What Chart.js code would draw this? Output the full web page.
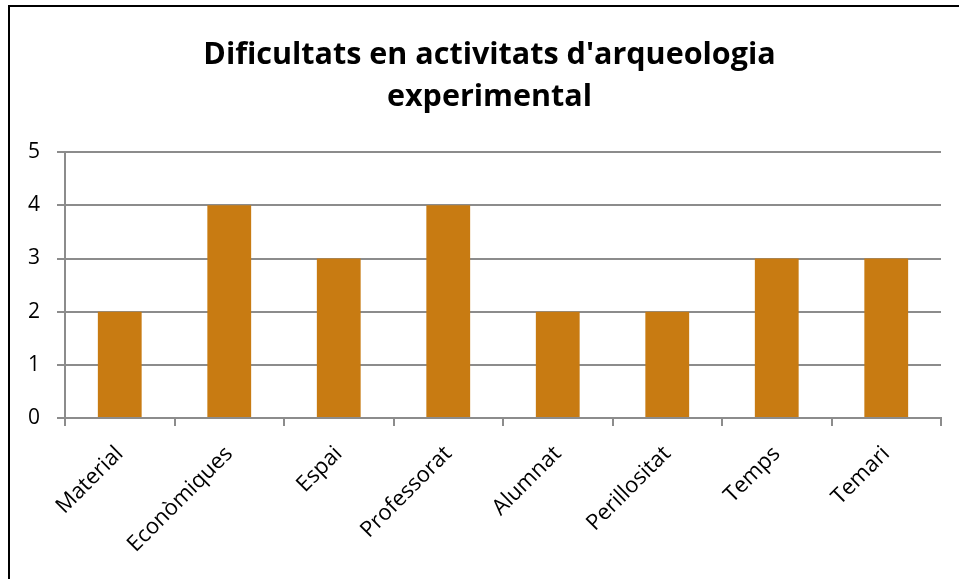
<!DOCTYPE html>
<html>
<head>
<meta charset="utf-8">
<script src="https://cdn.jsdelivr.net/npm/chart.js@4.4.0/dist/chart.umd.min.js"></script>
<style>
  html, body { margin: 0; padding: 0; background: #fff; overflow: hidden; }
  #wrap { position: relative; width: 959px; height: 579px; }
  #frame { position: absolute; left: 8px; top: 5px; width: 1000px; height: 1000px;
           border-left: 2px solid #000; border-top: 2px solid #000; pointer-events: none; }
  canvas { position: absolute; left: 0; top: 0; }
</style>
</head>
<body>
<div id="wrap">
  <canvas id="chart" width="959" height="579"></canvas>
  <div id="frame"></div>
</div>
<script>
const categories = ['Material', 'Econòmiques', 'Espai', 'Professorat', 'Alumnat', 'Perillositat', 'Temps', 'Temari'];
const values = [2, 4, 3, 4, 2, 2, 3, 3];
const titleLines = ["Dificultats en activitats d'arqueologia", 'experimental'];

const FONT = '"Open Sans", Lato, sans-serif';
const GRID = '#8c8c8c';

// the title in the original sits a bit right of the canvas centre
const shiftTitle = {
  id: 'shiftTitle',
  afterLayout(chart) {
    if (chart.titleBlock) chart.titleBlock.left = 38;
  }
};

const ctx = document.getElementById('chart').getContext('2d');
const chart = new Chart(ctx, {
  type: 'bar',
  data: {
    labels: categories,
    datasets: [{
      data: values,
      backgroundColor: '#c87b12',
      borderWidth: 0,
      categoryPercentage: 1,
      barPercentage: 0.4
    }]
  },
  options: {
    responsive: false,
    animation: false,
    layout: { padding: { left: 0, right: 18, top: 0, bottom: 0 } },
    plugins: {
      legend: { display: false },
      tooltip: { enabled: false },
      title: {
        display: true,
        text: titleLines,
        color: '#000',
        font: { family: FONT, size: 30.5, weight: 'bold', lineHeight: 1.38 },
        padding: { top: 34, bottom: 34 }
      }
    },
    scales: {
      x: {
        grid: {
          offset: true,
          drawOnChartArea: false,
          color: GRID,
          lineWidth: 2,
          tickLength: 8
        },
        border: { color: GRID, width: 2 },
        ticks: {
          color: '#000',
          font: { family: FONT, size: 22 },
          minRotation: 45,
          maxRotation: 45,
          padding: 15
        },
        afterFit: (scale) => { scale.height = 579 - 418; }
      },
      y: {
        min: 0,
        max: 5,
        grid: { color: GRID, lineWidth: 2, tickLength: 8 },
        border: { color: GRID, width: 2 },
        ticks: {
          stepSize: 1,
          color: '#000',
          font: { family: FONT, size: 21 },
          padding: 17
        },
        afterFit: (scale) => { scale.width = 65; }
      }
    }
  },
  plugins: [shiftTitle]
});
</script>
</body>
</html>
